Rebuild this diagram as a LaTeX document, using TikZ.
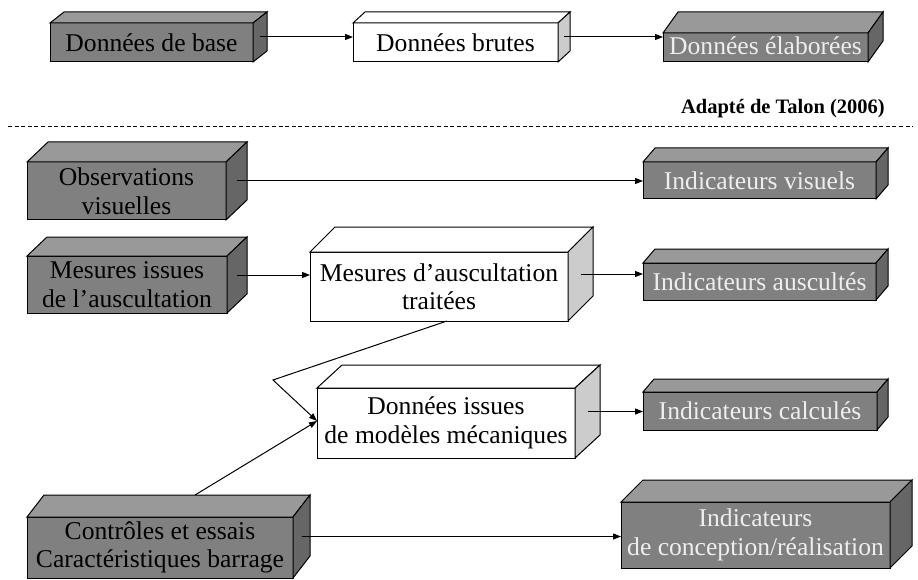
\documentclass[tikz,border=0pt]{standalone}
\usepackage{fontspec}
\setmainfont{Liberation Serif}
\usetikzlibrary{arrows.meta,calc}
\definecolor{frontgray}{HTML}{808080}
\definecolor{topgray}{HTML}{999999}
\definecolor{sidegray}{HTML}{666666}
\definecolor{sidelight}{HTML}{CCCCCC}
\definecolor{lighttext}{HTML}{EEEEEE}
\tikzset{
  face/.style={draw=black, line width=1pt, line join=miter},
  boxfront/.style={face, inner sep=0pt, outer sep=0pt, align=center,
    font=\fontsize{25.6}{28.5}\selectfont},
  darkbox/.style={boxfront, fill=frontgray},
  lightbox/.style={boxfront, fill=white},
  litext/.style={text=lighttext},
  arr/.style={line width=1pt, -{Triangle[length=8pt,width=6pt]}},
  sepline/.style={line width=1pt, dash pattern=on 4pt off 2.6pt},
  credit/.style={font=\fontsize{20.5}{22}\selectfont\bfseries, inner sep=0pt, anchor=base east}
}
\newcommand\depthfaces[5]{%
  \filldraw[face, fill=#4] (#1.north west) -- ([shift={(#2,-#3)}]#1.north west)
     -- ([shift={(#2,-#3)}]#1.north east) -- (#1.north east) -- cycle;
  \filldraw[face, fill=#5] (#1.north east) -- ([shift={(#2,-#3)}]#1.north east)
     -- ([shift={(#2,-#3)}]#1.south east) -- (#1.south east) -- cycle;
  \coordinate (#1-side) at ([shift={(#2/2,-#3/2)}]#1.east);
}
\begin{document}
\begin{tikzpicture}[x=1pt, y=-1pt]
\useasboundingbox (0,0) rectangle (918,580);

% top row
\node[darkbox, minimum width=203pt, minimum height=39pt] (base) at (151.5,42.5) {Données de base};
\depthfaces{base}{14}{11}{topgray}{sidegray}
\node[lightbox, minimum width=205pt, minimum height=39pt] (brutes) at (455.5,42.5) {Données brutes};
\depthfaces{brutes}{12}{11}{white}{sidelight}
\node[darkbox, litext, minimum width=205pt, minimum height=29pt] (elab) at (765.5,47.5) {\raisebox{3.5pt}{Données élaborées}};
\depthfaces{elab}{15}{21}{topgray}{sidegray}

\draw[arr] (base-side) -- (base-side -| brutes.west);
\draw[arr] (brutes-side) -- (brutes-side -| elab.west);

\node[credit] (talon) at (885,114) {Adapté de Talon (2006)};
\coordinate (sepL) at (8,127);
\coordinate (sepR) at (913,127);
\draw[sepline] (sepL) -- (sepR);

% left column
\node[darkbox, minimum width=199pt, minimum height=58pt] (obs) at (126.5,191) {Observations\\visuelles};
\depthfaces{obs}{21}{20}{topgray}{sidegray}
\node[darkbox, minimum width=200pt, minimum height=57pt] (mes) at (127,284.5) {Mesures issues\\de l’auscultation};
\depthfaces{mes}{20}{19}{topgray}{sidegray}
\node[darkbox, minimum width=266pt, minimum height=61pt] (ctrl) at (160,547.5) {Contrôles et essais\\Caractéristiques barrage};
\depthfaces{ctrl}{17}{22}{topgray}{sidegray}

% middle column
\node[lightbox, minimum width=258pt, minimum height=69pt] (trait) at (439,286.5) {Mesures d’auscultation\\traitées};
\depthfaces{trait}{25}{25}{white}{sidelight}
\node[lightbox, minimum width=258pt, minimum height=70pt] (model) at (446,423) {Données issues\\de modèles mécaniques};
\depthfaces{model}{25}{23}{white}{sidelight}

% right column
\node[darkbox, litext, minimum width=233pt, minimum height=37pt] (ivis) at (759.5,180.5) {Indicateurs visuels};
\depthfaces{ivis}{12}{14}{topgray}{sidegray}
\node[darkbox, litext, minimum width=233pt, minimum height=37pt] (iaus) at (759.5,281.5) {Indicateurs auscultés};
\depthfaces{iaus}{12}{14}{topgray}{sidegray}
\node[darkbox, litext, minimum width=234pt, minimum height=38pt] (ical) at (760,411) {Indicateurs calculés};
\depthfaces{ical}{11}{13}{topgray}{sidegray}
\node[darkbox, litext, minimum width=269pt, minimum height=66pt] (icon) at (755.5,535) {Indicateurs\\de conception/réalisation};
\depthfaces{icon}{22}{22}{topgray}{sidegray}

% connectors
\draw[arr] (obs-side) -- (obs-side -| ivis.west);
\draw[arr] (mes-side) -- (mes-side -| trait.west);
\draw[arr] (trait-side) -- (trait-side -| iaus.west);
\draw[arr] (model-side) -- (model-side -| ical.west);
\draw[arr] (ctrl-side) -- (ctrl-side -| icon.west);

\coordinate (bend) at (273,380);
\draw[arr] ([xshift=8pt]trait.south) -- (bend) -- ([yshift=2pt]model.west);
\draw[arr] ([shift={(35,-22)}]ctrl.north) -- ([yshift=2pt]model.west);
\end{tikzpicture}
\end{document}
